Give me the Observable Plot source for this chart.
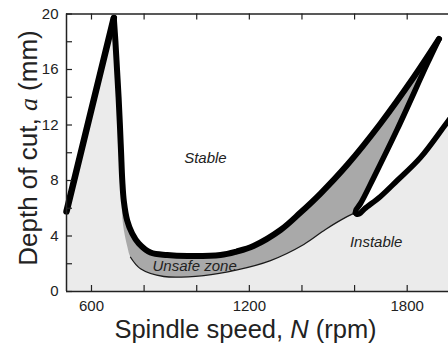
<!DOCTYPE html>
<html><head><meta charset="utf-8">
<script src="https://cdn.jsdelivr.net/npm/d3@7"></script>
<script src="https://cdn.jsdelivr.net/npm/@observablehq/plot@0.6"></script>
<style>body{margin:0;background:#fff}#chart svg{display:block}</style>
</head><body><div id="chart"></div>
<script>
const xDomain = [505, 1957];
const yDomain = [0, 20];
const xTickValues = [600, 800, 1000, 1200, 1400, 1600, 1800];
const xTickLabels = [600, 1200, 1800];
const yTickValues = [0, 2, 4, 6, 8, 10, 12, 14, 16, 18, 20];
const yTickLabels = [0, 4, 8, 12, 16, 20];

// lobe 1 rising branch (rpm, mm)
const lobe1N = [505, 595, 684.8];
const lobe1A = [5.77, 12.75, 19.71];
// main lobe boundary: peak -> minimum -> tip
const mainN = [684.8, 691, 697, 703, 708, 712.5, 717, 723, 735.7, 754.7, 779.8, 824.3, 887.8, 964.9, 1090.4, 1151.2, 1215.8, 1318.4, 1394.5, 1470.5, 1573.1, 1698.6, 1824, 1920.9];
const mainA = [19.71, 18.0, 16.0, 14.0, 12.0, 10.0, 8.0, 6.5, 5.12, 4.18, 3.46, 2.81, 2.63, 2.56, 2.63, 2.88, 3.28, 4.43, 5.69, 7.06, 9.15, 12.11, 15.42, 18.2];
// inner branch: tip -> cusp
const innerN = [1920.9, 1875.8, 1762, 1673, 1622.5, 1606, 1603.5];
const innerA = [18.2, 16.4, 11.68, 8.22, 6.34, 5.9, 5.68];
// lobe 3: cusp -> right
const lobe3N = [1603.5, 1608, 1618, 1637.7, 1698.6, 1762, 1850.6, 1957, 2040.6];
const lobe3A = [5.68, 5.58, 5.6, 5.95, 6.85, 8.0, 9.66, 12.32, 14.34];
// lower boundary of the unsafe zone: cusp -> left
const lowerN = [1603.5, 1573.1, 1489.5, 1407, 1280.4, 1153.9, 1026.9, 874.8, 786.3, 748.3];
const lowerA = [5.68, 5.41, 4.47, 3.39, 2.23, 1.56, 1.15, 1.08, 1.64, 2.47];
// grey band along the left of the main curve
const bandN = [748.3, 736.9, 727.4, 719.8, 716, 716];
const bandA = [2.47, 3.17, 3.96, 4.83, 5.69, 6.56];

const labelTexts = ["Stable", "Unsafe zone", "Instable"];
const labelN = [1033, 992, 1682];
const labelA = [9.6, 1.8, 3.53];

const pts = (N, A) => N.map((n, i) => ({N: n, a: A[i]}));
const lobe1 = pts(lobe1N, lobe1A);
const main = pts(mainN, mainA);
const inner = pts(innerN, innerA);
const lobe3 = pts(lobe3N, lobe3A);
const lower = pts(lowerN, lowerA);
const band = pts(bandN, bandA);

// polygons; corners outside the frame are clipped away
const slope1 = (lobe1A[1] - lobe1A[0]) / (lobe1N[1] - lobe1N[0]);
const xPad = 100, yPad = 5;
const unstableArea = [
  {N: xDomain[0] - 25, a: lobe1A[0] - 25 * slope1},
  ...lobe1, ...main.slice(1), ...inner.slice(1), ...lobe3.slice(1),
  {N: xDomain[1] + xPad, a: yDomain[0] - yPad},
  {N: (xDomain[0] + xDomain[1]) / 2, a: yDomain[0] - yPad},
  {N: xDomain[0] - xPad, a: yDomain[0] - yPad}
];
const unsafeArea = [...main.filter(d => d.N >= 716.5), ...inner.slice(1), ...lower.slice(1), ...band.slice(1)];

const W = 448, H = 344, mL = 66, mR = 0, mT = 13.5, mB = 53;
const fw = W - mL - mR, fh = H - mT - mB;
const ink = "#222";

const chart = Plot.plot({
  width: W, height: H,
  marginLeft: mL, marginRight: mR, marginTop: mT, marginBottom: mB,
  x: {domain: xDomain},
  y: {domain: yDomain},
  style: {fontFamily: "'Liberation Sans', Arial, sans-serif", background: "white", color: ink},
  marks: [
    Plot.line(unstableArea, {x: "N", y: "a", fill: "#ebebeb", stroke: "none", curve: "catmull-rom", clip: true}),
    Plot.line(unsafeArea, {x: "N", y: "a", fill: "#a9a9a9", stroke: "none", curve: "catmull-rom", clip: true}),
    Plot.line(lower, {x: "N", y: "a", stroke: "#1a1a1a", strokeWidth: 1.3, curve: "catmull-rom"}),
    Plot.line(lobe1, {x: "N", y: "a", stroke: "black", strokeWidth: 6.5, strokeLinecap: "round", strokeLinejoin: "round"}),
    Plot.line(main, {x: "N", y: "a", stroke: "black", strokeWidth: 6, strokeLinecap: "round", strokeLinejoin: "round", curve: "catmull-rom"}),
    Plot.line(inner, {x: "N", y: "a", stroke: "black", strokeWidth: 5.5, strokeLinecap: "round", strokeLinejoin: "round", curve: "catmull-rom"}),
    Plot.line(lobe3, {x: "N", y: "a", stroke: "black", strokeWidth: 5.5, strokeLinecap: "round", strokeLinejoin: "round", curve: "catmull-rom"}),
    Plot.ruleY([yDomain[0]], {stroke: ink, strokeWidth: 1.5}),
    Plot.ruleY([yDomain[1]], {stroke: ink, strokeWidth: 1.5}),
    Plot.ruleX([xDomain[0]], {stroke: ink, strokeWidth: 1.5}),
    Plot.ruleX(xTickValues, {insetTop: fh - 6, stroke: ink, strokeWidth: 1.2}),
    Plot.ruleX(xTickValues, {insetBottom: fh - 6, stroke: ink, strokeWidth: 1.2}),
    Plot.ruleY(yTickValues, {insetRight: fw - 6, stroke: ink, strokeWidth: 1.2}),
    Plot.axisX(xTickLabels, {tickSize: 0, tickPadding: 9, fontSize: 15, label: null, tickFormat: d => String(d)}),
    Plot.axisY(yTickLabels, {tickSize: 0, tickPadding: 8, fontSize: 15, label: null}),
    Plot.text(labelTexts, {x: labelN, y: labelA, text: d => d, fontStyle: "italic", fontSize: 15, fill: "#222"})
  ]
});

const svg = d3.select(chart);
const xt = svg.append("text")
  .attr("x", 245.5).attr("y", 338)
  .attr("text-anchor", "middle").attr("font-size", 25.5).attr("fill", ink);
xt.append("tspan").text("Spindle speed, ");
xt.append("tspan").attr("font-style", "italic").text("N");
xt.append("tspan").text(" (rpm)");

const yt = svg.append("text")
  .attr("transform", "translate(36.5,148) rotate(-90)")
  .attr("text-anchor", "middle").attr("font-size", 26).attr("fill", ink);
yt.append("tspan").text("Depth of cut, ");
yt.append("tspan").attr("font-style", "italic").attr("font-family", "'Liberation Serif', 'Times New Roman', serif").text("a");
yt.append("tspan").text(" (mm)");

document.getElementById("chart").appendChild(chart);
</script>
</body></html>
